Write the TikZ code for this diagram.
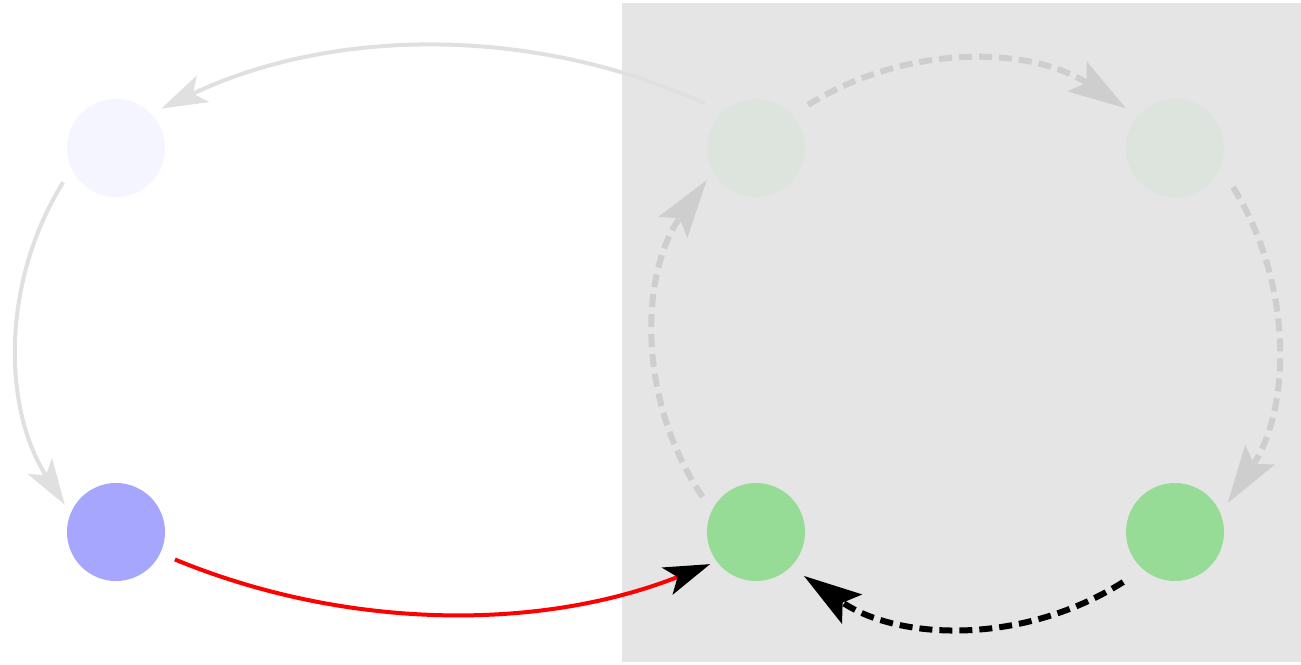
\documentclass[tikz,border=0pt]{standalone}
\usetikzlibrary{arrows.meta,calc}
\definecolor{bgbox}{HTML}{E5E5E5}
\definecolor{paleblue}{HTML}{F5F5FF}
\definecolor{blue}{HTML}{A6A6FF}
\definecolor{palegreen}{HTML}{DDE3DD}
\definecolor{green}{HTML}{96DB96}
\definecolor{lightline}{HTML}{E0E0E0}
\definecolor{dashline}{HTML}{CECECE}
\tikzset{
  dot/.style={circle,minimum size=98pt,inner sep=0pt,outer sep=0pt,draw=none},
  conn/.style={line width=4pt,
    -{Stealth[length=46pt,width=29pt,inset=11pt]}},
  dashconn/.style={line width=6pt,dash pattern=on 13pt off 7pt,
    -{Stealth[length=58pt,width=35pt,inset=11pt]}}
}
\begin{document}
\begin{tikzpicture}[x=1pt,y=-1pt]
\useasboundingbox (0,0) rectangle (1301,664);
\fill[bgbox] (622,3) rectangle (1301,662);
\node[dot,fill=paleblue] (A) at (116,148) {};
\node[dot,fill=blue] (B) at (116,532) {};
\node[dot,fill=palegreen] (C) at (756,148) {};
\node[dot,fill=palegreen] (D) at (1175,148) {};
\node[dot,fill=green] (E) at (756,532) {};
\node[dot,fill=green] (F) at (1175,532) {};
% y axis points down: polar offsets use negated angles, out/in use page angles
\draw[conn,lightline] ($(C)+(-139:68)$) to[out=155.6,in=25.4,looseness=0.89] ($(A)+(-41:60)$);
\draw[conn,lightline] ($(A)+(-213:63)$) to[out=238,in=122.8,looseness=0.92] ($(B)+(-152:58)$);
\draw[conn,red,-{Stealth[length=46pt,width=29pt,inset=11pt,black]}] ($(B)+(25:65)$) to[out=-22.4,in=201.6,looseness=0.88] ($(E)+(-215:56)$);
\draw[dashconn,black] ($(F)+(-224:72)$) to[out=212.4,in=-34.6,looseness=0.93] ($(E)+(42.5:65)$);
\draw[dashconn,dashline] ($(E)+(-146.6:64)$) to[out=124.3,in=234.3,looseness=0.935] ($(C)+(-213:58.5)$);
\draw[dashconn,dashline] ($(C)+(-39.6:67.5)$) to[out=32.1,in=146.9,looseness=0.925] ($(D)+(-141:63)$);
\draw[dashconn,dashline] ($(D)+(34:70)$) to[out=-58.1,in=56.3,looseness=0.925] ($(F)+(-28.7:60)$);
\end{tikzpicture}
\end{document}
